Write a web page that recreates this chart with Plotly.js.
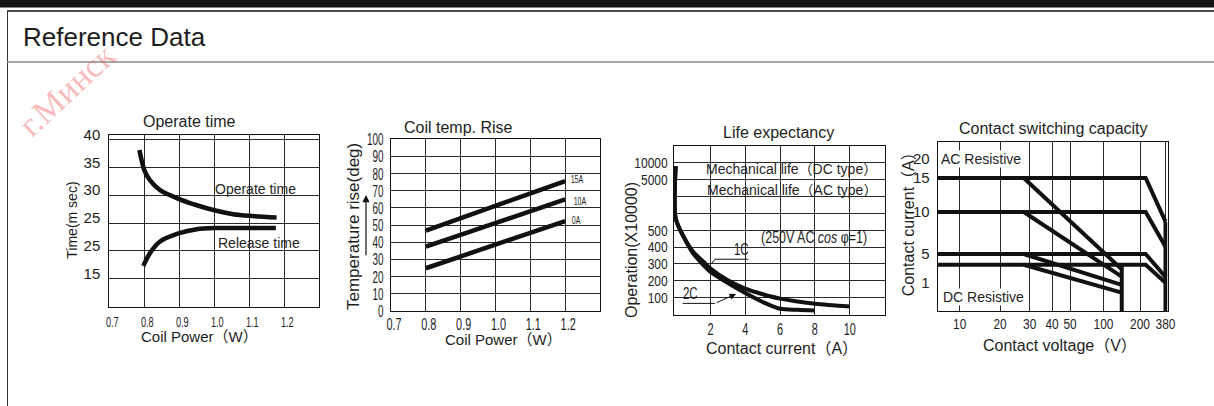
<!DOCTYPE html>
<html><head><meta charset="utf-8">
<script src="https://cdn.plot.ly/plotly-3.0.1.min.js"></script>
<style>html,body{margin:0;padding:0;background:#fff;}#chart{width:1214px;height:406px;}</style>
</head><body><div id="chart"></div>
<script>
// ================= DATA =================
// Panel 1: Operate time
const coilPowerTicks = [0.7, 0.8, 0.9, 1.0, 1.1, 1.2];
const coilPowerTickText = ['0.7', '0.8', '0.9', '1.0', '1.1', '1.2'];
const timeTicks = [40, 35, 30, 25, 20, 15];
const timeTickText = ['40', '35', '30', '25', '25', '15'];
const operatePower = [0.786, 0.80, 0.816, 0.845, 0.90, 0.95, 1.00, 1.054, 1.10, 1.178];
const operateTime = [38.1, 34.5, 32.7, 30.9, 29.3, 28.2, 27.3, 26.6, 26.3, 26.0];
const releasePower = [0.797, 0.816, 0.845, 0.90, 0.95, 1.00, 1.10, 1.176];
const releaseTime = [17.3, 19.6, 21.7, 23.2, 23.9, 24.1, 24.1, 24.1];

// Panel 2: Coil temp. rise
const tempTicks = [0, 10, 20, 30, 40, 50, 60, 70, 80, 90, 100];
const tempPower = [0.8, 1.2];
const rise15A = [46.8, 75.7];
const rise10A = [37.5, 65.0];
const rise0A = [24.9, 52.4];

// Panel 3: Life expectancy (operations x10000)
const currentTicks = [2, 4, 6, 8, 10];
const operationTicks = [100, 200, 300, 400, 500, 5000, 10000];
const operationScaleValues = [0, 100, 200, 300, 400, 500, 5000, 10000, 15000];
const current1C = [0, 0, 0.45, 1.0, 1.6, 2.0, 3.0, 4.0, 5.0, 6.0, 8.0, 10.0];
const operations1C = [9000, 1550, 462, 373, 313, 273, 203, 153, 120, 94, 64, 48];
const current2C = [0, 0, 0.45, 1.0, 1.6, 2.0, 3.0, 4.0, 5.0, 6.0, 7.0, 8.0];
const operations2C = [9000, 1550, 462, 363, 293, 253, 187, 127, 74, 34, 28, 24];

// Panel 4: Contact switching capacity
const voltageTicks = [10, 20, 30, 40, 50, 100, 200, 380];
const voltageScaleValues = [5, 10, 20, 30, 40, 50, 100, 200, 380];
const ampTicks = [1, 5, 10, 15, 20];
const ampScaleValues = [0, 1, 5, 10, 15, 20];
const acVoltage = [5, 240, 380];
const ac15A = [15, 15, 8.85];
const ac10A = [10, 10, 5.87];
const ac5A = [5, 5, 1.8];
const ac3A = [3.5, 3.5, 1.0];
const dcVoltage = [28, 150];
const dc15A = [15, 2.87];
const dc10A = [10, 1.84];
const dc5A = [5, 0.92];
const dc3A = [3.5, 0.65];
const dcLimitVoltage = [150, 150];
const dcLimitAmps = [3.5, 0];
const acLimitVoltage = [380, 380];
const acLimitAmps = [8.85, 0];

// ================= SCALES (non-uniform axes of the original) =================
const operationScalePos = [0, 1, 2, 3, 4, 5, 8, 9, 10];
const voltageScalePos = [0, 22, 62.3, 92, 114.3, 132.3, 165.8, 202.3, 227.8];
const ampScalePos = [0, 28.3, 57, 99, 133, 152];
function piecewise(v, vals, pos) {
  for (let i = 0; i < vals.length - 1; i++) {
    if (v <= vals[i + 1] || i === vals.length - 2) {
      const t = (v - vals[i]) / (vals[i + 1] - vals[i]);
      return pos[i] + t * (pos[i + 1] - pos[i]);
    }
  }
}
const opPos = v => piecewise(v, operationScaleValues, operationScalePos);
const vPos = v => piecewise(v, voltageScaleValues, voltageScalePos);
const aPos = v => piecewise(v, ampScaleValues, ampScalePos);

// ================= LAYOUT HELPERS =================
const W = 1214, H = 406;
const dx = p => p / W;
const dy = p => 1 - p / H;
const SANS = 'Liberation Sans, Arial, Noto Sans CJK SC, sans-serif';
const INK = '#1e1e1e';
const GRID = '#2a2a2a';
const base = {
  showline: true, mirror: true, linecolor: '#111', linewidth: 1,
  showgrid: true, gridcolor: GRID, gridwidth: 1, zeroline: false,
  ticks: '', fixedrange: true, tickmode: 'array', tickangle: 0
};
const LW = 4.5;
const line = (x, y, xa, ya, w) => ({
  type: 'scatter', mode: 'lines', x, y, xaxis: xa, yaxis: ya,
  line: { color: '#111', width: w || LW, shape: 'linear' }, hoverinfo: 'skip'
});
const spl = (x, y, xa, ya, w) => ({
  type: 'scatter', mode: 'lines', x, y, xaxis: xa, yaxis: ya,
  line: { color: '#111', width: w || LW, shape: 'spline', smoothing: 0.8 }, hoverinfo: 'skip'
});

const traces = [
  spl(operatePower, operateTime, 'x', 'y'),
  spl(releasePower, releaseTime, 'x', 'y'),
  line(tempPower, rise15A, 'x2', 'y2'),
  line(tempPower, rise10A, 'x2', 'y2'),
  line(tempPower, rise0A, 'x2', 'y2'),
  spl(current1C, operations1C.map(opPos), 'x3', 'y3', 4),
  spl(current2C, operations2C.map(opPos), 'x3', 'y3', 4),
  line(acVoltage.map(vPos), ac15A.map(aPos), 'x4', 'y4', 4),
  line(acVoltage.map(vPos), ac10A.map(aPos), 'x4', 'y4', 4),
  line(acVoltage.map(vPos), ac5A.map(aPos), 'x4', 'y4', 4),
  line(acVoltage.map(vPos), ac3A.map(aPos), 'x4', 'y4', 4),
  line(dcVoltage.map(vPos), dc15A.map(aPos), 'x4', 'y4', 4),
  line(dcVoltage.map(vPos), dc10A.map(aPos), 'x4', 'y4', 4),
  line(dcVoltage.map(vPos), dc5A.map(aPos), 'x4', 'y4', 4),
  line(dcVoltage.map(vPos), dc3A.map(aPos), 'x4', 'y4', 4),
  line(dcLimitVoltage.map(vPos), dcLimitAmps.map(aPos), 'x4', 'y4', 4),
  line(acLimitVoltage.map(vPos), acLimitAmps.map(aPos), 'x4', 'y4', 4)
];

const ampGridPos = [28.3, 46, 57, 63.5, 70.7, 79.3, 86, 92.7, 99, 133, 161];

// panel 3 and 4 boxes are widened by 2 px so the thick edge lines are not clipped
const layout = {
  width: W, height: H, margin: { l: 0, r: 0, t: 0, b: 0 },
  paper_bgcolor: '#fff', plot_bgcolor: '#fff', showlegend: false,
  font: { family: SANS, color: INK },
  xaxis: Object.assign({}, base, {
    domain: [dx(109.3), dx(319.3)], anchor: 'y', range: [0.7, 1.3],
    tickvals: coilPowerTicks, ticktext: coilPowerTickText,
    tickfont: { family: SANS, size: 14, color: INK }, ticklabelshift: 3, ticklabelstandoff: 2
  }),
  yaxis: Object.assign({}, base, {
    domain: [dy(306.7), dy(135)], anchor: 'x', range: [10, 40.8],
    tickvals: timeTicks, ticktext: timeTickText,
    tickfont: { family: SANS, size: 15, color: INK }, ticklabelshift: -5, ticklabelstandoff: 5
  }),
  xaxis2: Object.assign({}, base, {
    domain: [dx(391), dx(600)], anchor: 'y2', range: [0.7, 1.3],
    tickvals: coilPowerTicks, ticktext: coilPowerTickText,
    tickfont: { family: SANS, size: 16, color: INK }, ticklabelshift: 3, ticklabelstandoff: -1
  }),
  yaxis2: Object.assign({}, base, {
    domain: [dy(311), dy(139.3)], anchor: 'x2', range: [0, 100],
    tickvals: tempTicks, ticktext: tempTicks.map(String),
    tickfont: { family: SANS, size: 17, color: INK }, ticklabelstandoff: 3
  }),
  xaxis3: Object.assign({}, base, {
    domain: [dx(673.7), dx(884.5)], anchor: 'y3', range: [-0.115, 12],
    tickvals: currentTicks, ticktext: currentTicks.map(String),
    tickfont: { family: SANS, size: 16, color: INK }, ticklabelstandoff: 0
  }),
  yaxis3: Object.assign({}, base, {
    domain: [dy(314.5), dy(146)], anchor: 'x3', range: [0, 10],
    tickvals: operationTicks.map(opPos), ticktext: operationTicks.map(String),
    tickfont: { family: SANS, size: 15, color: INK }, ticklabelstandoff: 2,
    minor: { tickmode: 'linear', tick0: 0, dtick: 1, showgrid: true, gridcolor: GRID, gridwidth: 1, ticks: '' }
  }),
  xaxis4: Object.assign({}, base, {
    domain: [dx(937.7), dx(1167.5)], anchor: 'y4', range: [0, 229.8],
    tickvals: voltageTicks.map(vPos), ticktext: voltageTicks.map(String),
    tickfont: { family: SANS, size: 14, color: INK }, ticklabelstandoff: 0
  }),
  yaxis4: Object.assign({}, base, {
    domain: [dy(311), dy(141.7)], anchor: 'x4', range: [0, 169.3],
    tickvals: ampTicks.map(aPos), ticktext: ampTicks.map(String), showgrid: false,
    tickfont: { family: SANS, size: 15, color: INK }, ticklabelstandoff: 4
  }),
  yaxis5: Object.assign({}, base, {
    domain: [dy(311), dy(141.7)], anchor: 'x4', overlaying: 'y4', range: [0, 169.3],
    tickvals: ampGridPos, showticklabels: false, showline: false
  }),
  shapes: [
    { type: 'rect', xref: 'paper', yref: 'paper', x0: 0, x1: 1, y0: dy(7.5), y1: 1, fillcolor: '#141414', line: { width: 0 } },
    { type: 'line', xref: 'paper', yref: 'paper', x0: dx(7), x1: 1, y0: dy(11), y1: dy(11), line: { color: '#111', width: 1.5 } },
    { type: 'line', xref: 'paper', yref: 'paper', x0: dx(7.5), x1: dx(7.5), y0: dy(11), y1: 0, line: { color: '#333', width: 1 } },
    { type: 'line', xref: 'paper', yref: 'paper', x0: dx(7), x1: 1, y0: dy(62), y1: dy(62), line: { color: '#888', width: 1.5 } },
    { type: 'line', xref: 'x3', yref: 'y3', x0: 2.07, y0: 3.04, x1: 2.26, y1: 3.28, line: { color: '#111', width: 1 } },
    { type: 'line', xref: 'x3', yref: 'y3', x0: 2.26, y0: 3.28, x1: 4.17, y1: 3.28, line: { color: '#111', width: 1 } },
    { type: 'line', xref: 'x3', yref: 'y3', x0: 0.4, y0: 0.66, x1: 2.26, y1: 0.66, line: { color: '#111', width: 1 } }
  ],
  annotations: []
};

function txt(text, x, y, size, opts) {
  return Object.assign({ text, x: dx(x), y: dy(y), xref: 'paper', yref: 'paper', showarrow: false,
    font: { family: SANS, size, color: INK }, xanchor: 'center', yanchor: 'middle' }, opts || {});
}
const A = layout.annotations;
// watermark
A.push(txt('г.Минск', 66, 90, 34, { textangle: -43, font: { family: 'Liberation Serif, serif', size: 34, color: 'rgba(236,90,90,0.42)' } }));
// header
A.push(txt('Reference Data', 21, 37, 26, { xanchor: 'left' }));
// panel titles
A.push(txt('Operate time', 189, 121.7, 16));
A.push(txt('Coil temp. Rise', 459, 127, 16));
A.push(txt('Life expectancy', 778.3, 132.7, 16));
A.push(txt('Contact switching capacity', 1053.3, 128.3, 16));
// axis titles
A.push(txt('Coil Power（W）', 200, 336.7, 15));
A.push(txt('Time(m sec)', 71.7, 220, 14, { textangle: -90 }));
A.push(txt('Coil Power（W）', 503, 339, 15));
A.push(txt('Temperature rise(deg)', 353, 227, 17, { textangle: -90 }));
A.push(txt('Operation(X10000)', 631, 250, 16, { textangle: -90 }));
A.push(txt('Contact current（A）', 781.7, 348, 16));
A.push(txt('Contact current（A）', 908.3, 220, 16, { textangle: -90 }));
A.push(txt('Contact voltage（V）', 1060, 345, 16));
// in-plot labels
const dtxt = (text, x, y, xa, ya, size, opts) => Object.assign({ text, x, y, xref: xa, yref: ya, showarrow: false,
  font: { family: SANS, size, color: INK } }, opts || {});
A.push(dtxt('Operate time', 1.119, 31.1, 'x', 'y', 14));
A.push(dtxt('Release time', 1.128, 21.4, 'x', 'y', 14));
A.push(dtxt('15A', 1.233, 76.4, 'x2', 'y2', 10));
A.push(dtxt('10A', 1.243, 63.7, 'x2', 'y2', 10));
A.push(dtxt('0A', 1.233, 53, 'x2', 'y2', 10));
A.push(dtxt('Mechanical life（DC type）', 6.67, 8.62, 'x3', 'y3', 14));
A.push(dtxt('Mechanical life（AC type）', 6.67, 7.39, 'x3', 'y3', 14));
A.push(dtxt('(250V AC <i>cos</i> φ=1)', 7.96, 4.56, 'x3', 'y3', 16));
A.push(dtxt('1C', 3.75, 3.83, 'x3', 'y3', 16));
A.push(dtxt('2C', 0.82, 1.26, 'x3', 'y3', 16));
A.push({ text: '', x: 3.47, y: 1.22, xref: 'x3', yref: 'y3', ax: 2.26, ay: 0.66, axref: 'x3', ayref: 'y3',
  showarrow: true, arrowhead: 2, arrowsize: 1.3, arrowwidth: 1, arrowcolor: '#111' });
A.push(txt('AC Resistive', 940, 159, 14, { xanchor: 'left', bgcolor: '#fff', borderpad: 0 }));
A.push(txt('DC Resistive', 941.7, 296.7, 14, { xanchor: 'left', bgcolor: '#fff', borderpad: 0 }));
// arrow beside temperature axis title
A.push({ text: '', x: dx(366), y: dy(195), xref: 'paper', yref: 'paper', ax: 0, ay: 61.7,
  showarrow: true, arrowhead: 2, arrowsize: 1.2, arrowwidth: 1.2, arrowcolor: '#111' });

// the original uses a very condensed face for numbers; squeeze those labels horizontally
const condenseTicks = { xtick: 0.66, x2tick: 0.68, y2tick: 0.58, x3tick: 0.68, y3tick: 0.8, x4tick: 0.85 };
const condenseNotes = { '1C': 0.72, '2C': 0.72, '15A': 0.7, '10A': 0.7, '0A': 0.7 };
const scaleNotes = { '(250V AC cos φ=1)': 0.78 };
function squeeze(t, f) {
  const w = t.getComputedTextLength();
  t.setAttribute('textLength', (w * f).toFixed(1));
  t.setAttribute('lengthAdjust', 'spacingAndGlyphs');
}
function scaleX(t, f) {
  const b = t.getBBox();
  const cx = b.x + b.width / 2;
  const prev = t.getAttribute('transform') || '';
  t.setAttribute('transform', `translate(${cx} 0) scale(${f} 1) translate(${-cx} 0) ${prev}`);
}
Plotly.newPlot('chart', traces, layout, { staticPlot: true, displayModeBar: false }).then(gd => {
  for (const [cls, f] of Object.entries(condenseTicks)) {
    gd.querySelectorAll('g.' + cls + ' text').forEach(t => squeeze(t, f));
  }
  gd.querySelectorAll('text.annotation-text').forEach(t => {
    const f = condenseNotes[t.textContent];
    if (f) squeeze(t, f);
    const s = scaleNotes[t.textContent];
    if (s) scaleX(t, s);
  });
});
</script>
</body></html>
